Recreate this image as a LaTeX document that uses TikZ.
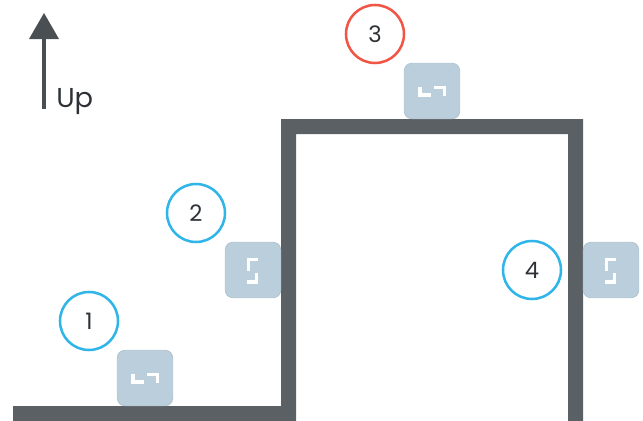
\documentclass[tikz,border=0pt]{standalone}
\usepackage{fontspec}
\setmainfont{Poppins}
\definecolor{wall}{HTML}{5A6064}
\definecolor{arrowink}{HTML}{4A4F54}
\definecolor{blockfill}{HTML}{BACEDC}
\definecolor{blockedge}{HTML}{AFC3D1}
\definecolor{ringblue}{HTML}{2FB5E8}
\definecolor{ringred}{HTML}{F05545}
\definecolor{ink}{HTML}{2E3236}
\tikzset{
  blockbox/.style={draw=blockedge,line width=0.6pt,fill=blockfill,rounded corners=5.5pt,minimum size=41.5pt,inner sep=0pt,outer sep=0pt},
  ring/.style={circle,draw=#1,line width=1.9pt,fill=white,minimum size=43.5pt,inner sep=0pt,text=ink,font=\fontsize{17}{20}\selectfont},
  mark line/.style={draw=white,line width=2.4pt,line join=miter},
  flat glyph/.pic={\draw[mark line] (-12,-4.5) -- (-12,4) -- (-1,4);\draw[mark line] (2,-3.5) -- (12.5,-3.5) -- (12.5,5);},
  tall glyph/.pic={\draw[mark line] (5,-10.5) -- (-4.5,-10.5) -- (-4.5,1);\draw[mark line] (3.5,3) -- (3.5,12) -- (-6,12);}
}
\begin{document}
\begin{tikzpicture}[x=0.75pt,y=-0.75pt]
\useasboundingbox (0,0) rectangle (643,421);
\fill[wall] (13,406) -- (281,406) -- (281,119) -- (583,119) -- (583,421) -- (568,421) -- (568,134) -- (296,134) -- (296,421) -- (281,421) -- (13,421) -- cycle;
\node[blockbox] (b1) at (145,378) {};
\node[blockbox] (b2) at (253,270) {};
\node[blockbox] (b3) at (432,91) {};
\node[blockbox] (b4) at (611,270) {};
\pic at (b1) {flat glyph};
\pic at (b2) {tall glyph};
\pic at (b3) {flat glyph};
\pic at (b4) {tall glyph};
\node[ring=ringblue] (c1) at (89,321) {1};
\node[ring=ringblue] (c2) at (196,213) {2};
\node[ring=ringred] (c3) at (375,34) {3};
\node[ring=ringblue] (c4) at (532,270) {4};
\coordinate (tail) at (44,109);
\coordinate (tip) at (44,13);
\draw[arrowink,line width=3pt] (tail) -- (44,36);
\fill[arrowink] (tip) -- (59,39) -- (29,39) -- cycle;
\node[anchor=base west,inner sep=0pt,text=ink,font=\fontsize{20.5}{24}\selectfont] (up) at (56,107) {Up};
\end{tikzpicture}
\end{document}
